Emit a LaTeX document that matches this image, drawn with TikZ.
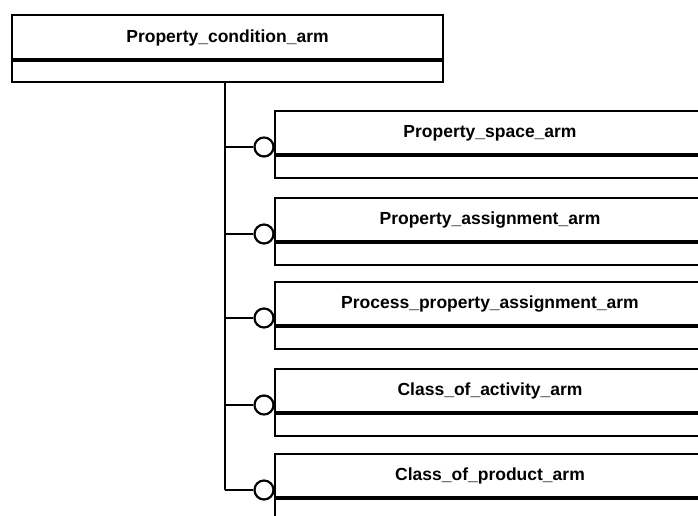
\documentclass[tikz,border=0pt]{standalone}
\usepackage{fontspec}
\setmainfont{Liberation Sans}
\begin{document}
\begin{tikzpicture}[x=1pt,y=-1pt,
  boxline/.style={line width=2.8pt},
  divline/.style={line width=3.8pt},
  conn/.style={line width=2.2pt},
  lbl/.style={font=\bfseries\fontsize{17.5}{17.5}\selectfont, inner sep=0pt},
  ring/.style={circle, draw, line width=2.2pt, fill=white, minimum size=19pt, inner sep=0pt}]
\useasboundingbox (0,0) rectangle (698,516);
\clip (0,0) rectangle (698,516);
% top box
\draw[boxline] (12,15) rectangle (443,82);
\draw[divline] (12,60) -- (443,60);
\node[lbl] (top) at (227.5,38) {Property\_condition\_arm};
\coordinate (topb) at (225,82);
% children
\foreach \t/\lab/\nm in {111/Property\_space\_arm/c1,198/Property\_assignment\_arm/c2,282/Process\_property\_assignment\_arm/c3,369/Class\_of\_activity\_arm/c4,454/Class\_of\_product\_arm/c5}{
  \draw[boxline] (275,\t) rectangle (706,\t+67);
  \draw[divline] (275,\t+44) -- (706,\t+44);
  \node[lbl] (\nm) at (490,\t+22) {\lab};
  \node[ring] (r\nm) at (264,\t+36) {};
  \coordinate (j\nm) at (225,\t+36);
  \draw[conn] (j\nm) -- (r\nm);
}
\draw[conn] (topb) -- (jc5);
\end{tikzpicture}
\end{document}
